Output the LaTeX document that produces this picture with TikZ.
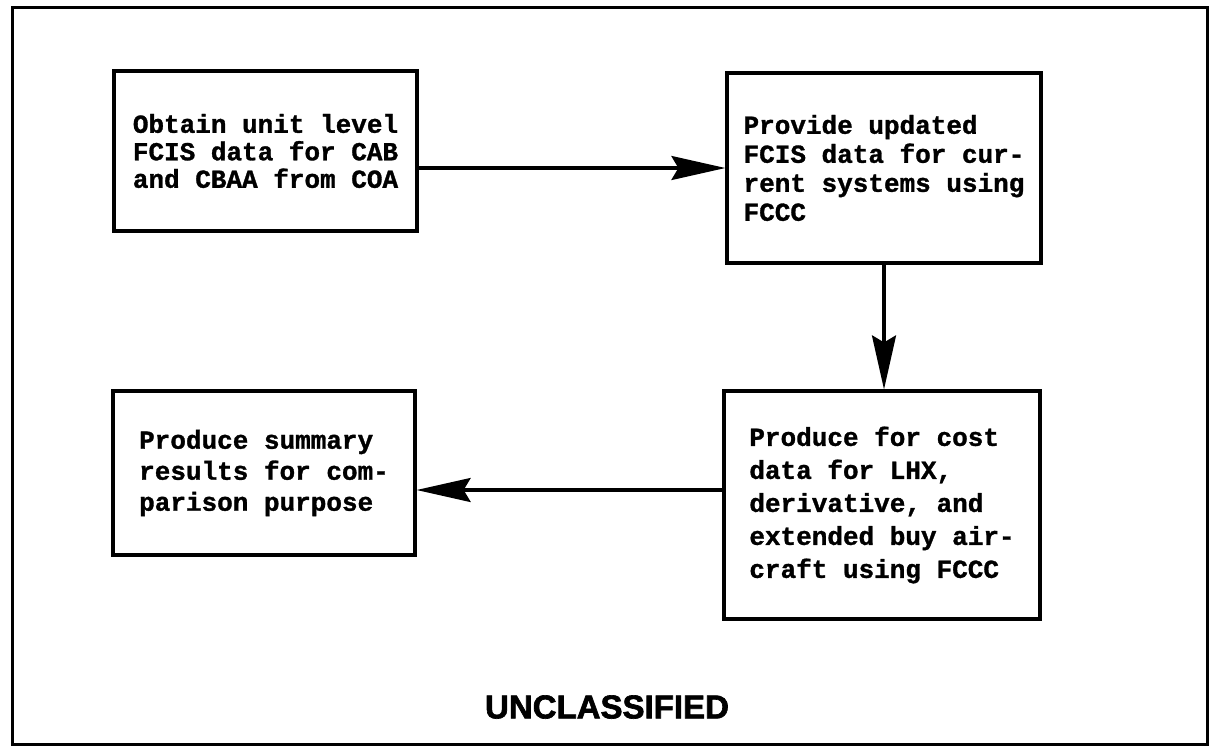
\documentclass[tikz,border=0pt]{standalone}
\usepackage{fontspec}
\newfontfamily\boxfont{Liberation Mono}[BoldFeatures={FakeBold=1.2}]
\newfontfamily\labfont{Liberation Sans}[BoldFeatures={FakeBold=2}]
\usetikzlibrary{arrows.meta,calc}
\begin{document}
\begin{tikzpicture}[x=1pt,y=-1pt,
  stepbox/.style={draw,line width=3.2pt,align=left,inner sep=0pt},
  arr/.style={line width=3.2pt,-{Stealth[length=54pt,width=24pt,inset=7pt]}}]
\useasboundingbox (0,0) rectangle (1210,748);
\draw[line width=3pt] (12,7) rectangle (1207,744);
\node[stepbox,minimum width=303pt,minimum height=160pt,
  font=\boxfont\bfseries\fontsize{26}{27.5}\selectfont] (b1) at (265.5,151)
  {Obtain unit level\\FCIS data for CAB\\and CBAA from COA};
\node[stepbox,minimum width=314pt,minimum height=190pt,
  font=\boxfont\bfseries\fontsize{26}{29}\selectfont] (b2) at (884,168)
  {Provide updated\\FCIS data for cur-\\rent systems using\\FCCC};
\node[stepbox,minimum width=302pt,minimum height=164pt,
  font=\boxfont\bfseries\fontsize{26}{31}\selectfont] (b3) at (264,473)
  {Produce summary\\results for com-\\parison purpose};
\node[stepbox,minimum width=316pt,minimum height=228pt,
  font=\boxfont\bfseries\fontsize{26}{33}\selectfont] (b4) at (882,505)
  {Produce for cost\\data for LHX,\\derivative, and\\extended buy air-\\craft using FCCC};
\coordinate (ay) at (0,490);
\draw[arr] (b1.east |- b2.west) -- (b2.west);
\draw[arr] (b2.south) -- (b2.south |- b4.north);
\draw[arr] (b4.west |- ay) -- (b3.east |- ay);
\node[font=\labfont\bfseries\fontsize{33}{36}\selectfont] (uc) at (607,707) {UNCLASSIFIED};
\end{tikzpicture}
\end{document}
